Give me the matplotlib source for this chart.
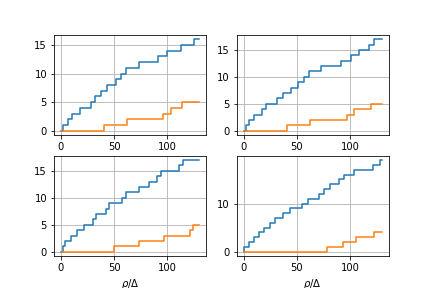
import matplotlib
matplotlib.use("Agg")
import matplotlib.pyplot as plt
import numpy as np

# x positions (rho/Delta) where each cumulative count steps up by one
X_END = 130.0

blue_jumps = [
    [0, 2, 7, 10.5, 17.7, 28, 32, 37.5, 43.5, 51.5, 56.5, 61, 73, 91, 100, 112.5, 125.5],
    [0, 1.9, 5, 9.8, 17.7, 20.8, 31.2, 37.5, 44.5, 50.8, 57.1, 61.8, 72.9, 91.8, 101.3, 108.2, 117.7, 122.7],
    [0, 1.5, 4.2, 9.7, 15.2, 21.4, 30.5, 33, 42.2, 44.8, 57, 61, 73.5, 82.3, 90, 94.5, 110.5, 115],
    [0, 0.8, 4.8, 10, 14.8, 19.6, 25, 29.2, 36.8, 43.2, 55.2, 60.5, 70.6, 76, 81, 89.8, 94.5, 103.5, 121.7, 128.5],
]
orange_jumps = [
    [0, 40.7, 61.7, 96, 103, 113.5],
    [0, 40.4, 62.5, 97.2, 103.5, 119.6],
    [0, 49.8, 73.5, 96.5, 121.5, 124.5],
    [0, 78.2, 93.4, 106, 122.7],
]
ytick_sets = [None, None, None, [0, 10]]


def staircase(jumps):
    x = np.append(jumps, X_END)
    y = np.arange(len(jumps))
    y = np.append(y, y[-1])
    return x, y


fig, axes = plt.subplots(2, 2, figsize=(6, 4), dpi=72)
for i, ax in enumerate(axes.flat):
    ax.step(*staircase(blue_jumps[i]), where="post")
    ax.step(*staircase(orange_jumps[i]), where="post")
    ax.grid(True)
    if ytick_sets[i] is not None:
        ax.set_yticks(ytick_sets[i])
    if i >= 2:
        ax.set_xlabel(r"$\rho/\Delta$")

fig.savefig("out.png", dpi=72)
